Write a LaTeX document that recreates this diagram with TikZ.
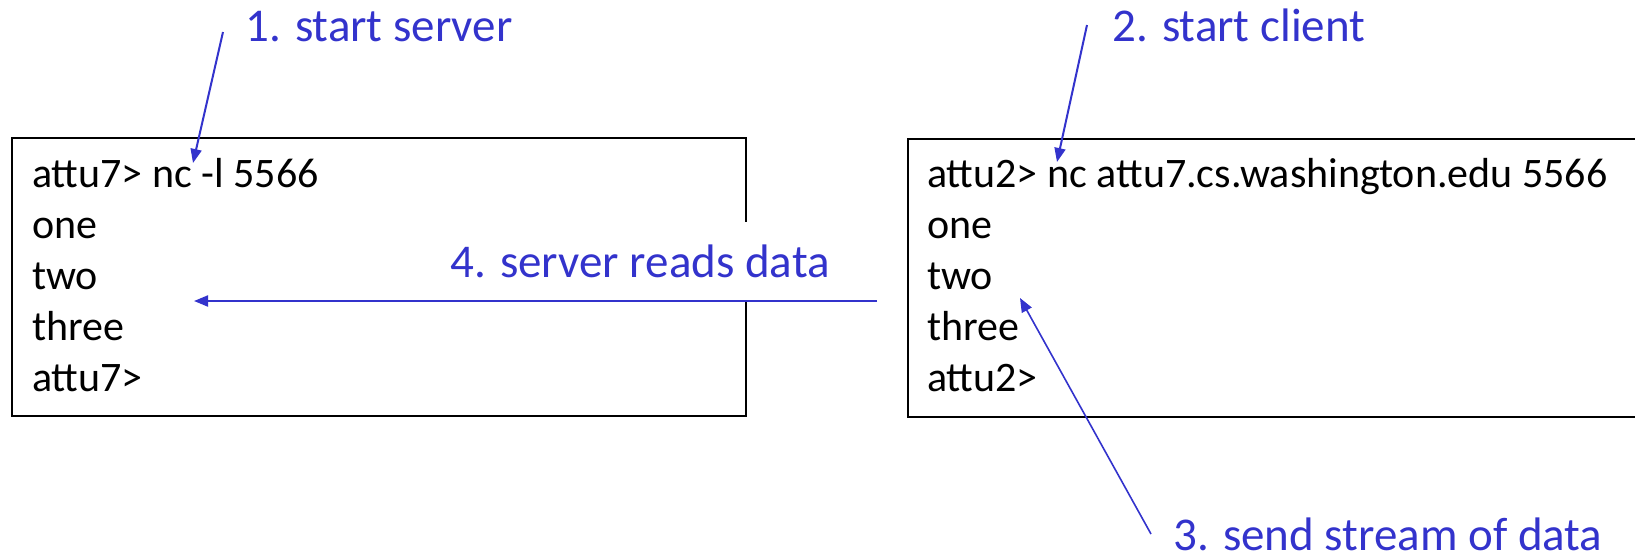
\documentclass[tikz,border=0pt]{standalone}
\usepackage{fontspec}
\setmainfont{Carlito}
\usetikzlibrary{arrows.meta}
\definecolor{lblue}{RGB}{51,51,204}
\begin{document}
\begin{tikzpicture}[x=1pt,y=-1pt,
  term/.style={anchor=base west,inner sep=0pt,font=\fontsize{42}{50}\selectfont},
  lbl/.style={anchor=base west,inner sep=0pt,text=lblue,font=\fontsize{47}{56}\selectfont},
  boxframe/.style={draw=black,line width=2pt,inner sep=0pt,anchor=north west},
  arr/.style={draw=lblue,line width=2pt,-{Triangle[length=14pt,width=11pt]}}]
\useasboundingbox (0,0) rectangle (1635,555);
% terminal boxes
\node[boxframe,minimum width=734pt,minimum height=278pt] (lbox) at (11,137) {};
\node[boxframe,minimum width=740pt,minimum height=278pt] (rbox) at (907,138) {};
% left terminal text
\node[term] (l1) at (32,187) {attu7> nc -l 5566};
\node[term] (l2) at (32,238) {one};
\node[term] (l3) at (32,289) {two};
\node[term] (l4) at (32,340) {three};
\node[term] (l5) at (32,391) {attu7>};
% right terminal text
\node[term] (r1) at (927,187) {attu2> nc attu7.cs.washington.edu 5566};
\node[term] (r2) at (927,238) {one};
\node[term] (r3) at (927,289) {two};
\node[term] (r4) at (927,340) {three};
\node[term] (r5) at (927,391) {attu2>};
% labels
\node[lbl] (s1) at (245,41) {1. start server};
\node[lbl] (s2) at (1112,41) {2. start client};
\node[lbl,text depth=0pt] (s3) at (1173,550) {3. send stream of data};
\node[lbl,fill=white,text height=55pt,text depth=24pt] (s4) at (450,277) {4. server reads data};
% arrow end points
\coordinate (a1s) at (223,32);
\coordinate (a1e) at (193,163);
\coordinate (a2s) at (1087,25);
\coordinate (a2e) at (1057,162);
\coordinate (a3s) at (1151,534);
\coordinate (a3e) at (1020,298);
\coordinate (a4s) at (877,301);
\coordinate (a4e) at (194,301);
\draw[arr] (a1s) -- (a1e);
\draw[arr] (a2s) -- (a2e);
\draw[arr,line width=1.6pt] (a3s) -- (a3e);
\draw[arr] (a4s) -- (a4e);
\end{tikzpicture}
\end{document}
